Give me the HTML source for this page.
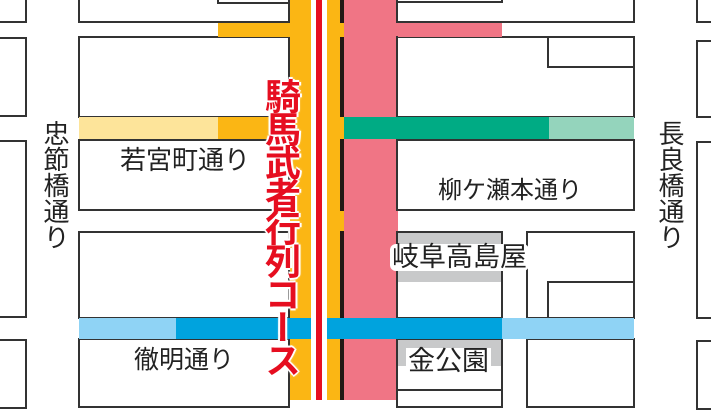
<!DOCTYPE html>
<html><head><meta charset="utf-8"><style>
body{margin:0;width:711px;height:400px;overflow:hidden;background:#fff;position:relative;font-family:"Liberation Sans","Noto Sans CJK JP",sans-serif}
div{position:absolute;box-sizing:border-box}
.b{border:2px solid #333;background:#fff}
.t{color:#222;font-size:24px;line-height:1;white-space:nowrap}
.v{writing-mode:vertical-rl;font-size:26px;color:#222;line-height:1;white-space:nowrap}
</style></head><body>
<div class="b" style="left:-4px;top:-4px;width:31px;height:27px"></div>
<div class="b" style="left:-4px;top:37px;width:31px;height:80px"></div>
<div class="b" style="left:-4px;top:140px;width:31px;height:178px"></div>
<div class="b" style="left:-4px;top:339px;width:31px;height:70px"></div>
<div class="b" style="left:78px;top:-4px;width:212px;height:27px"></div>
<div class="b" style="left:217px;top:-4px;width:73px;height:8px"></div>
<div class="b" style="left:78px;top:36px;width:212px;height:82px"></div>
<div class="b" style="left:78px;top:139px;width:212px;height:72px"></div>
<div class="b" style="left:78px;top:231px;width:212px;height:88px"></div>
<div class="b" style="left:78px;top:338px;width:212px;height:70px"></div>
<div style="left:218px;top:23px;width:75px;height:14px;background:#fbb614"></div>
<div style="left:79px;top:117px;width:139px;height:22px;background:#fde49a"></div>
<div style="left:218px;top:117px;width:75px;height:22px;background:#fbb614"></div>
<div style="left:290px;top:0;width:51px;height:400px;background:#fbb614"></div>
<div style="left:340px;top:0;width:4px;height:400px;background:#231815"></div>
<div style="left:340px;top:23px;width:4px;height:14px;background:#fbb614"></div>
<div style="left:340px;top:117px;width:4px;height:22px;background:#fbb614"></div>
<div style="left:340px;top:211px;width:4px;height:20px;background:#fbb614"></div>
<div style="left:344px;top:0;width:54px;height:400px;background:#f07585"></div>
<div class="b" style="left:396px;top:-4px;width:239px;height:27px"></div>
<div class="b" style="left:396px;top:-4px;width:107px;height:7px"></div>
<div class="b" style="left:396px;top:36px;width:239px;height:82px"></div>
<div class="b" style="left:547px;top:36px;width:88px;height:32px"></div>
<div class="b" style="left:396px;top:139px;width:239px;height:72px"></div>
<div class="b" style="left:396px;top:231px;width:107px;height:88px"></div>
<div style="left:398px;top:233px;width:103px;height:49px;background:#c8c9ca"></div>
<div class="b" style="left:526px;top:231px;width:109px;height:88px"></div>
<div class="b" style="left:547px;top:281px;width:88px;height:38px"></div>
<div class="b" style="left:396px;top:338px;width:107px;height:70px"></div>
<div style="left:398px;top:340px;width:103px;height:26px;background:#c8c9ca"></div>
<div style="left:396px;top:389px;width:107px;height:2px;background:#333"></div>
<div class="b" style="left:526px;top:338px;width:109px;height:70px"></div>
<div style="left:398px;top:23px;width:104px;height:14px;background:#f07585"></div>
<div class="b" style="left:696px;top:-4px;width:30px;height:27px"></div>
<div class="b" style="left:696px;top:40px;width:30px;height:78px"></div>
<div class="b" style="left:696px;top:141px;width:30px;height:178px"></div>
<div class="b" style="left:696px;top:340px;width:30px;height:70px"></div>
<div style="left:344px;top:117px;width:205px;height:22px;background:#00ab84"></div>
<div style="left:549px;top:117px;width:85px;height:22px;background:#94d4bc"></div>
<div style="left:79px;top:318px;width:97px;height:21px;background:#8fd3f5"></div>
<div style="left:176px;top:318px;width:326px;height:21px;background:#00a3de"></div>
<div style="left:502px;top:318px;width:132px;height:21px;background:#8fd3f5"></div>
<div style="left:311px;top:0;width:16px;height:400px;background:#fff"></div>
<div style="left:316px;top:0;width:6px;height:400px;background:#e60e20"></div>
<div class="v" style="left:42px;top:120px">忠節橋通り</div>
<div class="v" style="left:657px;top:120px">長良橋通り</div>
<div class="t" style="left:120px;top:147px;font-size:26px">若宮町通り</div>
<div class="t" style="left:438px;top:179px">柳ケ瀬本通り</div>
<div class="t" style="left:134px;top:348px;font-size:25px">徹明通り</div>
<div class="t" style="left:390px;top:244px;font-size:27px;background:#fff;padding:0 2px;border-radius:6px">岐阜高島屋</div>
<div class="t" style="left:406px;top:348px;font-size:27px;background:#fff;padding:0 2px">金公園</div>
<div style="left:262px;top:78px;height:320px;writing-mode:vertical-rl;white-space:nowrap;font-size:36px;line-height:1;font-weight:bold;color:#e60e20;text-shadow:0 0 3px #fff,0 0 3px #fff,2px 0 0 #fff,-2px 0 0 #fff,0 2px 0 #fff,0 -2px 0 #fff;letter-spacing:-3px">騎馬武者行列コース</div>
</body></html>
